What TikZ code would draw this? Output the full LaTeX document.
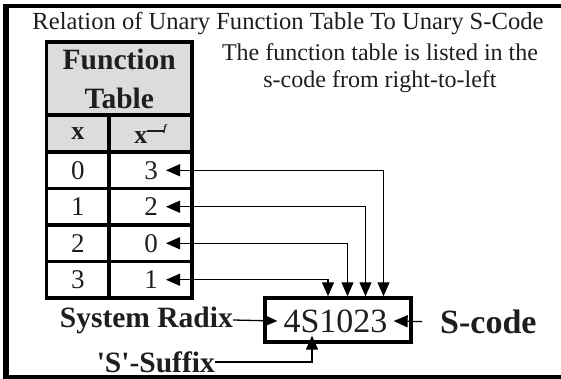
\documentclass[tikz,border=0pt]{standalone}
\usepackage{fontspec}
\setmainfont{Liberation Serif}
\usetikzlibrary{arrows.meta,positioning,calc}
\definecolor{tabgray}{RGB}{220,220,220}
\definecolor{inkgray}{RGB}{30,30,30}

\begin{document}
\begin{tikzpicture}[
  x=1pt, y=-1pt,
  every node/.style={text=inkgray},
  cell/.style={rectangle, draw=black, line width=3.5pt, inner sep=0pt, minimum height=36.5pt},
  conn/.style={draw=black, line width=1.3pt},
  tip/.style={-{Triangle[length=14pt,width=12pt]}},
  lab/.style={font=\fontsize{29.5}{30}\selectfont\bfseries, inner sep=0pt}
]
\useasboundingbox (0,0) rectangle (561,379);

% frame (open on the right)
\draw[line width=4pt] (561,6) -- (6,6) -- (6,377) -- (561,377);
\draw[line width=5.5pt] (6,4) -- (6,379);

% headings
\node[font=\fontsize{24.6}{24}\selectfont, anchor=base] (title) at (288,30)
      {Relation of Unary Function Table To Unary S-Code};
\node[font=\fontsize{24}{27}\selectfont, align=center] (note) at (380,68)
      {The function table is listed in the\\s-code from right-to-left};

% function table
\node[cell, fill=tabgray, minimum width=145.5pt, minimum height=73pt,
      font=\fontsize{29.5}{39}\selectfont\bfseries, align=center] (ftab) at (119.25,78.5)
      {Function\\Table};
\node[cell, fill=tabgray, minimum width=62.5pt, font=\fontsize{26}{26}\selectfont\bfseries]
      (hx) at (77.75,133.5) {x};
\node[cell, fill=tabgray, minimum width=83pt, font=\fontsize{26}{26}\selectfont\bfseries]
      (hf) at (150.5,133.5) {x\raisebox{11pt}{\rule{17pt}{2.4pt}}\kern-1pt\raisebox{12pt}{\fontsize{10}{10}\selectfont\itshape f}};

% s-code box
\node[rectangle, draw=black, line width=3.5pt, minimum width=146pt, minimum height=44pt]
      (sbox) at (338,320) {};
\node[font=\fontsize{34}{34}\selectfont, inner xsep=6pt, inner ysep=3pt] (scode) at (335.5,321) {4S1023};

% rows: x, value, connector to the s-code
\foreach \v/\dx [count=\i from 0] in {3/45.5, 2/27.5, 0/9.5, 1/-10} {
  \node[cell, minimum width=62.5pt, font=\fontsize{27}{27}\selectfont] (xc\i) at (77.75,170.25+36.5*\i) {\i};
  \node[cell, minimum width=83pt] (fc\i) at (150.5,170.25+36.5*\i) {};
  \node[anchor=east, inner xsep=8pt, inner ysep=0pt, font=\fontsize{27}{27}\selectfont]
        (fv\i) at (166,170.25+36.5*\i) {\v};
  \draw[conn, {Triangle[length=14pt,width=12pt]}-{Triangle[length=14pt,width=12pt]}]
        (fv\i.east) -| ([xshift=\dx]sbox.north);
}

% labels round the s-code
\node[lab, anchor=east] (radix) at (233,320) {System Radix};
\node[lab, anchor=east] (suffix) at (215,362) {\textquotesingle S\textquotesingle-Suffix};
\node[lab, font=\fontsize{34}{34}\selectfont\bfseries, anchor=west] (sclab) at (440,322) {S-code};

\draw[conn, tip] (radix.east) -- (scode.west);
\draw[conn, tip] (suffix.east) -| ([xshift=-23.5]scode.south);
\draw[conn, tip, shorten <=18pt] (sclab.west) -- (scode.east);
\end{tikzpicture}
\end{document}
